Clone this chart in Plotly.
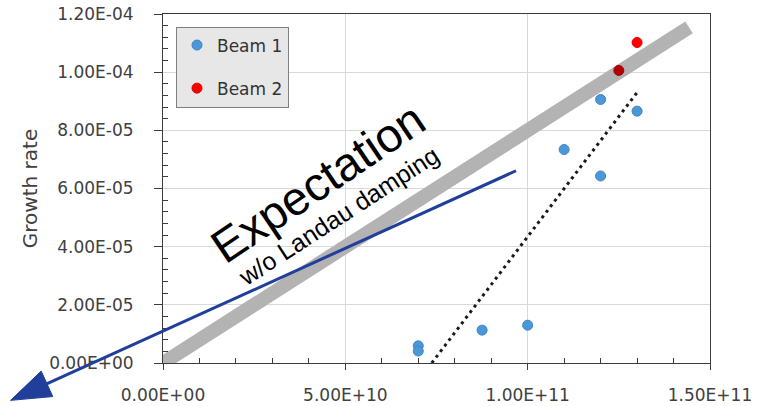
import math
import plotly.graph_objects as go

# Measured growth rates vs. bunch intensity
beam1_intensity = [7.0e10, 7.0e10, 8.75e10, 1.0e11, 1.1e11, 1.2e11, 1.2e11, 1.3e11]
beam1_growth = [5.9e-6, 4.1e-6, 1.13e-5, 1.30e-5, 7.34e-5, 6.43e-5, 9.06e-5, 8.66e-5]
beam2_intensity = [1.3e11, 1.25e11]
beam2_growth = [1.102e-4, 1.006e-4]

# Expected growth without Landau damping
expectation_intensity = [0.0, 1.4425e11]
expectation_growth = [0.0, 1.154e-4]

# Linear trend of the measured points
trend_intensity = [7.37e10, 1.30e11]
trend_growth = [0.0, 9.3e-5]

# Reference line that leaves the axes towards the origin (tail, tip)
arrow_tail = (9.68e10, 6.61e-5)
arrow_tip = (-4.18e10, -1.285e-5)

x_range = [0.0, 1.5e11]
y_range = [0.0, 1.2e-4]
x_ticks = [0.0, 5e10, 1e11, 1.5e11]
x_tick_text = ["0.00E+00", "5.00E+10", "1.00E+11", "1.50E+11"]
y_ticks = [0.0, 2e-5, 4e-5, 6e-5, 8e-5, 1e-4, 1.2e-4]
y_tick_text = ["0.00E+00", "2.00E-05", "4.00E-05", "6.00E-05",
               "8.00E-05", "1.00E-04", "1.20E-04"]

WIDTH, HEIGHT = 760, 406
MARGIN = dict(l=163, r=50, t=14, b=43)
PLOT_W = WIDTH - MARGIN["l"] - MARGIN["r"]
PLOT_H = HEIGHT - MARGIN["t"] - MARGIN["b"]

TICK_FONT = dict(family="DejaVu Sans", size=17, color="#404040")
AXIS_COLOR = "#3c3c3c"
BLUE_LINE = "#1f3f9a"


def to_px(x, y):
    return ((x - x_range[0]) / (x_range[1] - x_range[0]) * PLOT_W,
            (y - y_range[0]) / (y_range[1] - y_range[0]) * PLOT_H)


def px_to_paper(px, py):
    return px / PLOT_W, py / PLOT_H


# arrow geometry (paper coordinates so it can extend past the axes)
tail_px = to_px(*arrow_tail)
tip_px = to_px(*arrow_tip)
dx, dy = tip_px[0] - tail_px[0], tip_px[1] - tail_px[1]
length = math.hypot(dx, dy)
ux, uy = dx / length, dy / length
nx, ny = -uy, ux
head_len, head_half = 40.0, 14.0
base = (tip_px[0] - ux * head_len, tip_px[1] - uy * head_len)
c1 = (base[0] + nx * head_half, base[1] + ny * head_half)
c2 = (base[0] - nx * head_half, base[1] - ny * head_half)
line_end = (base[0] + ux * 4, base[1] + uy * 4)

tail_p = px_to_paper(*tail_px)
end_p = px_to_paper(*line_end)
tip_p = px_to_paper(*tip_px)
c1_p = px_to_paper(*c1)
c2_p = px_to_paper(*c2)

fig = go.Figure()

fig.add_trace(go.Scatter(
    x=expectation_intensity, y=expectation_growth, mode="lines",
    line=dict(color="#b3b3b3", width=14), showlegend=False, hoverinfo="skip",
))
fig.add_trace(go.Scatter(
    x=trend_intensity, y=trend_growth, mode="lines",
    line=dict(color="#1a1a1a", width=3, dash="3px,4px"),
    showlegend=False, hoverinfo="skip",
))
fig.add_trace(go.Scatter(
    x=beam1_intensity, y=beam1_growth, mode="markers", name="Beam 1",
    marker=dict(size=10, color="#4b97d8", line=dict(color="#3c86c6", width=1)),
    legendgroup="b1",
))
fig.add_trace(go.Scatter(
    x=beam2_intensity, y=beam2_growth, mode="markers", name="Beam 2",
    marker=dict(size=10, color=["#ff0000", "#b30000"],
                line=dict(color=["#e60000", "#a00000"], width=1)),
    legendgroup="b2",
))

fig.add_shape(type="line", xref="paper", yref="paper",
              x0=tail_p[0], y0=tail_p[1], x1=end_p[0], y1=end_p[1],
              line=dict(color=BLUE_LINE, width=3))
fig.add_shape(type="path", xref="paper", yref="paper",
              path=f"M{tip_p[0]},{tip_p[1]} L{c1_p[0]},{c1_p[1]} L{c2_p[0]},{c2_p[1]} Z",
              fillcolor=BLUE_LINE, line=dict(color=BLUE_LINE, width=1))

fig.add_annotation(x=4.25e10, y=6.2e-5, text="Expectation", showarrow=False,
                   textangle=-34, font=dict(family="Liberation Sans", size=47, color="#000000"))
fig.add_annotation(x=4.8e10, y=5.05e-5, text="w/o Landau damping", showarrow=False,
                   textangle=-33, font=dict(family="Liberation Sans", size=25, color="#000000"))

fig.update_xaxes(
    range=x_range, tickmode="array", tickvals=x_ticks, ticktext=x_tick_text,
    showgrid=True, gridcolor="#d9d9d9", gridwidth=1, zeroline=False,
    showline=True, linecolor=AXIS_COLOR, linewidth=1, mirror=True,
    ticks="outside", ticklen=6, tickcolor=AXIS_COLOR, tickwidth=1,
    ticklabelstandoff=11, tickfont=TICK_FONT, automargin=False,
    minor=dict(tickmode="array",
               tickvals=[i * 1e10 for i in range(16) if i % 5],
               ticks="inside", ticklen=5, tickcolor=AXIS_COLOR, showgrid=False),
)
fig.update_yaxes(
    range=y_range, tickmode="array", tickvals=y_ticks, ticktext=y_tick_text,
    showgrid=True, gridcolor="#d9d9d9", gridwidth=1, zeroline=False,
    showline=True, linecolor=AXIS_COLOR, linewidth=1, mirror=True,
    ticks="outside", ticklen=8, tickcolor=AXIS_COLOR, tickwidth=1,
    ticklabelstandoff=17, tickfont=TICK_FONT, automargin=False,
    minor=dict(tickmode="array",
               tickvals=[i * 4e-6 for i in range(31) if i % 5],
               ticks="inside", ticklen=5, tickcolor=AXIS_COLOR, showgrid=False),
    title=dict(text="Growth rate", font=dict(family="DejaVu Sans", size=20, color="#404040"),
               standoff=6),
)

fig.update_layout(
    width=WIDTH, height=HEIGHT, margin=MARGIN,
    plot_bgcolor="#ffffff", paper_bgcolor="#ffffff",
    legend=dict(x=13 / PLOT_W, y=1 - 12.5 / PLOT_H, xanchor="left", yanchor="top",
                bgcolor="#e7e7e7", bordercolor="#808080", borderwidth=1,
                font=dict(family="DejaVu Sans", size=17, color="#333333"),
                tracegroupgap=18, itemwidth=30, traceorder="grouped"),
    showlegend=True,
)

fig.write_html("out.html")
